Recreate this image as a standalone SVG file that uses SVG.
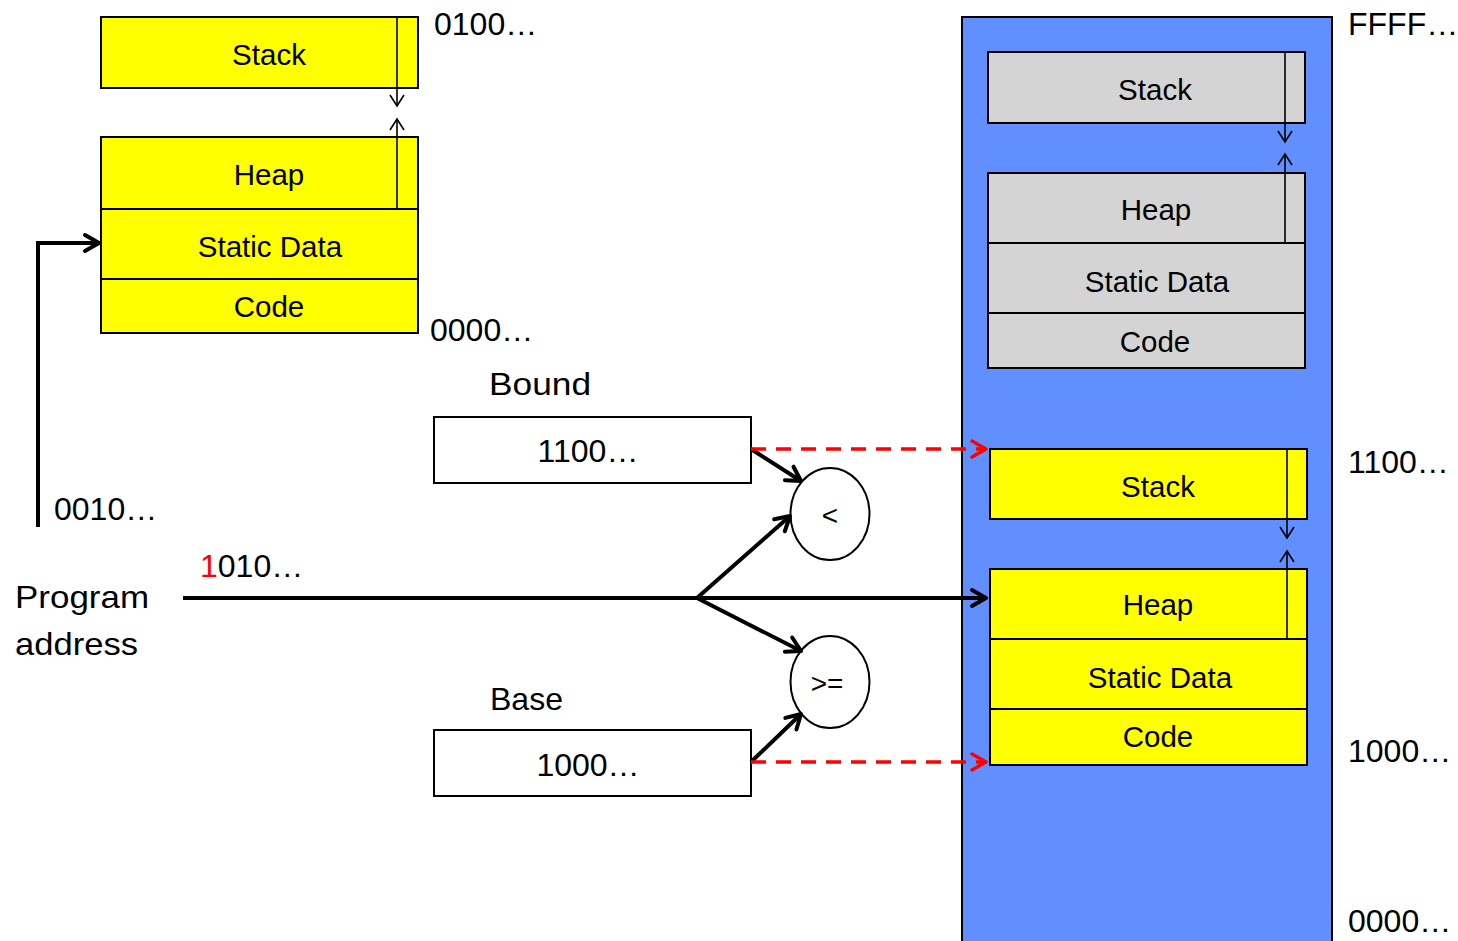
<svg xmlns="http://www.w3.org/2000/svg" width="1458" height="941" viewBox="0 0 1458 941">
<defs>
<style>
text{font-family:"Liberation Sans",Arial,sans-serif;fill:#000}
.lbl{font-size:32px}
.blk{font-size:29.5px;text-anchor:middle}
.y{fill:#FFFF00;stroke:#000;stroke-width:2}
.g{fill:#D4D4D4;stroke:#000;stroke-width:2}
.w{fill:#fff;stroke:#000;stroke-width:2}
.thin{stroke:#000;stroke-width:1.6;fill:none;marker-end:url(#ta)}
.thick{stroke:#000;stroke-width:4;fill:none;marker-end:url(#ka)}
.red{stroke:#FF0000;stroke-width:3.5;fill:none;stroke-dasharray:15 10;marker-end:url(#ra)}
</style>
<marker id="ta" markerUnits="userSpaceOnUse" markerWidth="16" markerHeight="16" viewBox="0 0 16 16" refX="13" refY="8" orient="auto">
<path d="M2,1 L13,8 L2,15" fill="none" stroke="#000" stroke-width="1.6"/>
</marker>
<marker id="ka" markerUnits="userSpaceOnUse" markerWidth="22" markerHeight="22" viewBox="0 0 22 22" refX="18" refY="11" orient="auto">
<path d="M4,3 L18,11 L4,19" fill="none" stroke="#000" stroke-width="4" stroke-linecap="round" stroke-linejoin="round"/>
</marker>
<marker id="ra" markerUnits="userSpaceOnUse" markerWidth="22" markerHeight="22" viewBox="0 0 22 22" refX="18" refY="11" orient="auto">
<path d="M4,3 L18,11 L4,19" fill="none" stroke="#FF0000" stroke-width="3.5" stroke-linecap="round" stroke-linejoin="round"/>
</marker>
</defs>
<rect width="1458" height="941" fill="#fff"/>

<g id="physical-memory">
<rect x="962" y="17" width="370" height="930" fill="#628FFF" stroke="#000" stroke-width="2"/>
</g>

<g id="left-memory">
<rect class="y" x="101" y="17" width="317" height="71"/>
<text class="blk" x="269" y="65">Stack</text>
<rect class="y" x="101" y="137" width="317" height="72"/>
<text class="blk" x="269" y="185">Heap</text>
<rect class="y" x="101" y="209" width="317" height="70"/>
<text class="blk" x="270" y="257">Static Data</text>
<rect class="y" x="101" y="279" width="317" height="54"/>
<text class="blk" x="269" y="317">Code</text>
</g>

<g id="gray-memory">
<rect class="g" x="988" y="52" width="317" height="71"/>
<text class="blk" x="1155" y="100">Stack</text>
<rect class="g" x="988" y="173" width="317" height="70"/>
<text class="blk" x="1156" y="220">Heap</text>
<rect class="g" x="988" y="243" width="317" height="70"/>
<text class="blk" x="1157" y="292">Static Data</text>
<rect class="g" x="988" y="313" width="317" height="55"/>
<text class="blk" x="1155" y="352">Code</text>
</g>

<g id="yellow-memory">
<rect class="y" x="990" y="449" width="317" height="70"/>
<text class="blk" x="1158" y="497">Stack</text>
<rect class="y" x="990" y="569" width="317" height="70"/>
<text class="blk" x="1158" y="615">Heap</text>
<rect class="y" x="990" y="639" width="317" height="70"/>
<text class="blk" x="1160" y="688">Static Data</text>
<rect class="y" x="990" y="709" width="317" height="56"/>
<text class="blk" x="1158" y="747">Code</text>
</g>

<g id="bound">
<text class="lbl" x="489" y="395" textLength="102" lengthAdjust="spacingAndGlyphs">Bound</text>
<rect class="w" x="434" y="417" width="317" height="66"/>
<text class="lbl" x="588" y="462" text-anchor="middle">1100…</text>
</g>

<g id="base">
<text class="lbl" x="490" y="710" textLength="73" lengthAdjust="spacingAndGlyphs">Base</text>
<rect class="w" x="434" y="730" width="317" height="66"/>
<text class="lbl" x="588" y="776" text-anchor="middle">1000…</text>
</g>

<g id="lt">
<ellipse cx="830" cy="514" rx="39.5" ry="46" fill="#fff" stroke="#000" stroke-width="2"/>
<text x="830" y="525" font-size="28" text-anchor="middle">&lt;</text>
</g>
<g id="ge">
<ellipse cx="830" cy="682" rx="39.5" ry="46" fill="#fff" stroke="#000" stroke-width="2"/>
<text x="827" y="693" font-size="28" text-anchor="middle">&gt;=</text>
</g>

<g id="labels">
<text class="lbl" x="434" y="35">0100…</text>
<text class="lbl" x="430" y="341">0000…</text>
<text class="lbl" x="1348" y="35">FFFF…</text>
<text class="lbl" x="1348" y="473">1100…</text>
<text class="lbl" x="1348" y="762">1000…</text>
<text class="lbl" x="1348" y="932">0000…</text>
<text class="lbl" x="54" y="520">0010…</text>
<text class="lbl" x="200" y="577"><tspan fill="#FF0000">1</tspan>010…</text>
<text class="lbl" x="15" y="608" textLength="134" lengthAdjust="spacingAndGlyphs">Program</text>
<text class="lbl" x="15" y="655" textLength="123" lengthAdjust="spacingAndGlyphs">address</text>
</g>

<g id="connectors">
<path class="thin" d="M397,17 V106"/>
<path class="thin" d="M397,209 V119"/>
<path class="thin" d="M1285,52 V142"/>
<path class="thin" d="M1285,243 V154"/>
<path class="thin" d="M1287,449 V538"/>
<path class="thin" d="M1287,639 V551"/>
<path class="thick" d="M38,527 V243 H99"/>
<path class="thick" d="M183,598 H986"/>
<path class="thick" d="M697,598 L790,516"/>
<path class="thick" d="M697,598 L801,651"/>
<path class="thick" d="M751,449 L801,481"/>
<path class="thick" d="M751,762 L801,714"/>
<path class="red" d="M751,449 H986"/>
<path class="red" d="M751,762 H986"/>
</g>
</svg>
